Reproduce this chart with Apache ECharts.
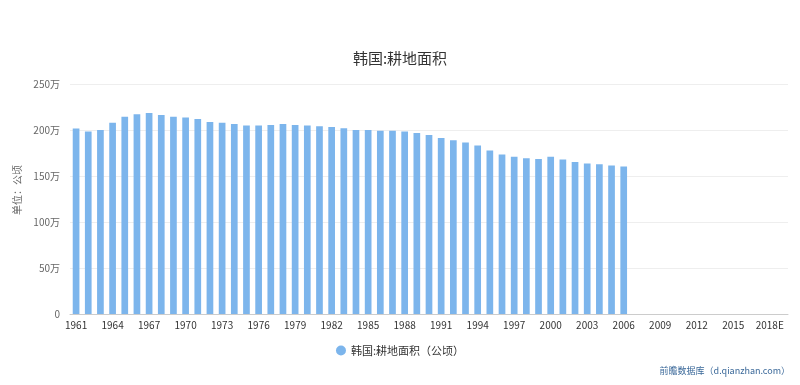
<!DOCTYPE html>
<html><head><meta charset="utf-8">
<script src="https://cdn.jsdelivr.net/npm/echarts@6/dist/echarts.min.js"></script>
<style>html,body{margin:0;padding:0;background:#fff}#c{width:800px;height:385px}</style>
</head><body><div id="c"></div>
<script>
const titleText = '韩国:耕地面积';
const seriesName = '韩国:耕地面积（公顷）';
const yAxisName = '单位：公顷';
const sourceText = '前瞻数据库（d.qianzhan.com）';
const years = [];
for (let y = 1961; y <= 2017; y++) years.push(String(y));
years.push('2018E', '2019E');
// values in 万公顷
const values = [201.5,198.3,200.1,208,214.5,217,218.5,216.4,214.5,213.5,212,208.8,208,206.6,204.8,204.8,205.5,206.6,205.5,204.9,204.2,203.3,201.9,200.1,200.1,199.3,199.3,198.3,196.8,194.6,191.4,188.9,186.3,183.1,177.6,173.3,170.8,169.3,168.6,170.8,167.9,165.3,163.5,162.8,161.4,160.3];
const data = values.map(v => Math.round(v * 10000));

const chart = echarts.init(document.getElementById('c'));
const font = '"Noto Sans CJK SC", "Microsoft YaHei", sans-serif';
chart.setOption({
  animation: false,
  textStyle: {fontFamily: font},
  title: {text: titleText, left: 'center', top: 46, textStyle: {fontSize: 15, fontWeight: 'normal', color: '#333', fontFamily: font}},
  legend: {bottom: 24, left: 'center', icon: 'circle', itemWidth: 10, itemHeight: 10, itemGap: 6,
    textStyle: {fontSize: 11, color: '#333', fontFamily: font}, data: [seriesName]},
  graphic: [{type: 'text', right: 10, bottom: 10, style: {text: sourceText, fill: '#3a6899', fontSize: 9, fontFamily: font}}],
  grid: {left: 70, right: 12, top: 84, bottom: 71},
  xAxis: {type: 'category', data: years, boundaryGap: true,
    axisLine: {lineStyle: {color: '#ccc'}},
    axisTick: {alignWithLabel: true, interval: 2, lineStyle: {color: '#ccc'}},
    axisLabel: {interval: 2, color: '#333', fontSize: 10, margin: 6, fontFamily: font}},
  yAxis: {type: 'value', min: 0, max: 2500000, interval: 500000,
    name: yAxisName, nameLocation: 'middle', nameGap: 40, nameRotate: 90,
    nameTextStyle: {color: '#666', fontSize: 10, fontFamily: font, align: 'left', verticalAlign: 'bottom', padding: [0, 0, 0, -16]},
    axisLine: {show: false}, axisTick: {show: false},
    splitLine: {lineStyle: {color: '#eee'}},
    axisLabel: {color: '#666', fontSize: 10, margin: 10, fontFamily: font,
      formatter: v => v === 0 ? '0' : (v / 10000) + '万'}},
  series: [{name: seriesName, type: 'bar', data: data, barWidth: '55%',
    itemStyle: {color: '#7cb5ec'}}]
});
</script></body></html>
